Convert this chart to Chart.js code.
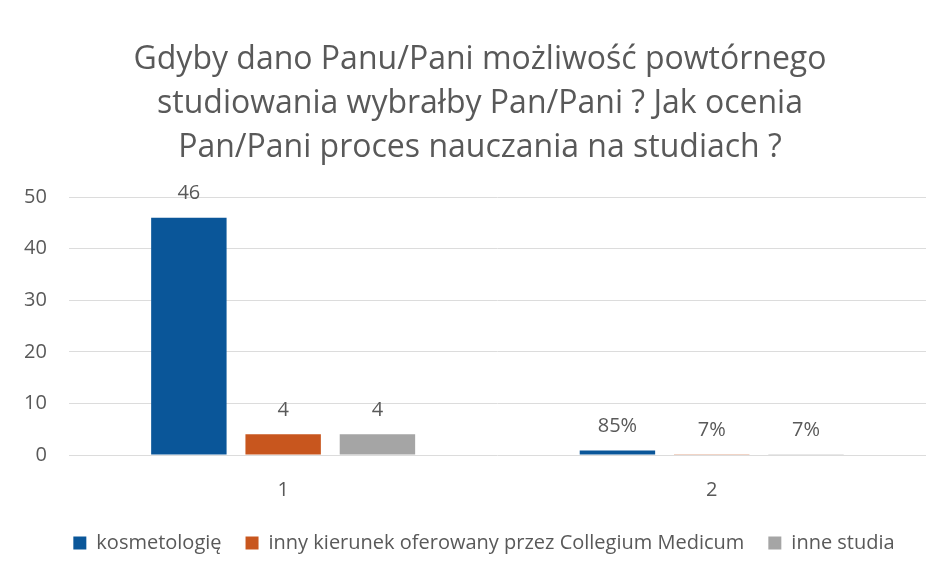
<!DOCTYPE html>
<html>
<head>
<meta charset="utf-8">
<script src="https://cdn.jsdelivr.net/npm/chart.js@4.4.0/dist/chart.umd.min.js"></script>
<style>
  html, body { margin: 0; padding: 0; background: #fff; }
  #box { width: 942px; height: 576px; position: relative; }
</style>
</head>
<body>
<div id="box"><canvas id="wykres"></canvas></div>
<script>
// dane z wykresu
var kategorie = ['1', '2'];
var kosmetologie = [46, 0.85];
var innyKierunek = [4, 0.07];
var inneStudia = [4, 0.07];
var etykietyKosmetologie = ['46', '85%'];
var etykietyInnyKierunek = ['4', '7%'];
var etykietyInneStudia = ['4', '7%'];
var tytul = ['Gdyby dano Panu/Pani możliwość powtórnego', 'studiowania wybrałby Pan/Pani ? Jak ocenia', 'Pan/Pani proces nauczania na studiach ?'];

var szary = '#595959';

// etykiety nad slupkami
var etykietyPlugin = {
    id: 'etykiety',
    afterDatasetsDraw: function (chart) {
        var ctx = chart.ctx;
        ctx.save();
        ctx.fillStyle = szary;
        ctx.font = '20px "Open Sans"';
        ctx.textAlign = 'center';
        ctx.textBaseline = 'middle';
        chart.data.datasets.forEach(function (ds, i) {
            var meta = chart.getDatasetMeta(i);
            meta.data.forEach(function (bar, j) {
                ctx.fillText(ds.etykiety[j], bar.x, bar.y - 24);
            });
        });
        ctx.restore();
    }
};

// tytul rysowany recznie (troche przesuniety w prawo jak w oryginale)
var tytulPlugin = {
    id: 'tytul',
    afterLayout: function (chart) {
        // legenda tez troche w prawo
        chart.legend.left += 20;
        chart.legend.right += 20;
    },
    afterDraw: function (chart) {
        var ctx = chart.ctx;
        ctx.save();
        ctx.fillStyle = szary;
        ctx.font = '32px "Open Sans"';
        ctx.textAlign = 'center';
        ctx.textBaseline = 'middle';
        for (var i = 0; i < tytul.length; i++) {
            ctx.fillText(tytul[i], chart.width / 2 + 9, 60 + i * 44);
        }
        ctx.restore();
    }
};

var ctx = document.getElementById('wykres');
new Chart(ctx, {
    type: 'bar',
    data: {
        labels: kategorie,
        datasets: [{
            label: 'kosmetologię',
            data: kosmetologie,
            etykiety: etykietyKosmetologie,
            backgroundColor: '#0a5699'
        }, {
            label: 'inny kierunek oferowany przez Collegium Medicum',
            data: innyKierunek,
            etykiety: etykietyInnyKierunek,
            backgroundColor: '#c8561e'
        }, {
            label: 'inne studia',
            data: inneStudia,
            etykiety: etykietyInneStudia,
            backgroundColor: '#a5a5a5'
        }]
    },
    options: {
        responsive: true,
        maintainAspectRatio: false,
        animation: false,
        layout: { padding: { left: 2, right: 16, top: 197, bottom: 13 } },
        datasets: { bar: { categoryPercentage: 0.66, barPercentage: 0.8 } },
        plugins: {
            title: { display: false },
            legend: {
                position: 'bottom',
                labels: {
                    color: szary,
                    font: { family: 'Open Sans', size: 20 },
                    boxWidth: 13,
                    boxHeight: 13,
                    padding: 24
                }
            },
            tooltip: { enabled: false }
        },
        scales: {
            x: {
                grid: { display: false, drawTicks: false },
                border: { display: false },
                ticks: { color: szary, font: { family: 'Open Sans', size: 20 }, padding: 23 },
                afterFit: function (scale) { scale.height = 54; }
            },
            y: {
                min: 0,
                max: 50,
                ticks: { stepSize: 10, color: szary, font: { family: 'Open Sans', size: 20 }, padding: 22 },
                grid: { color: '#dcdcdc', drawTicks: false },
                border: { display: false }
            }
        }
    },
    plugins: [etykietyPlugin, tytulPlugin]
});
</script>
</body>
</html>
